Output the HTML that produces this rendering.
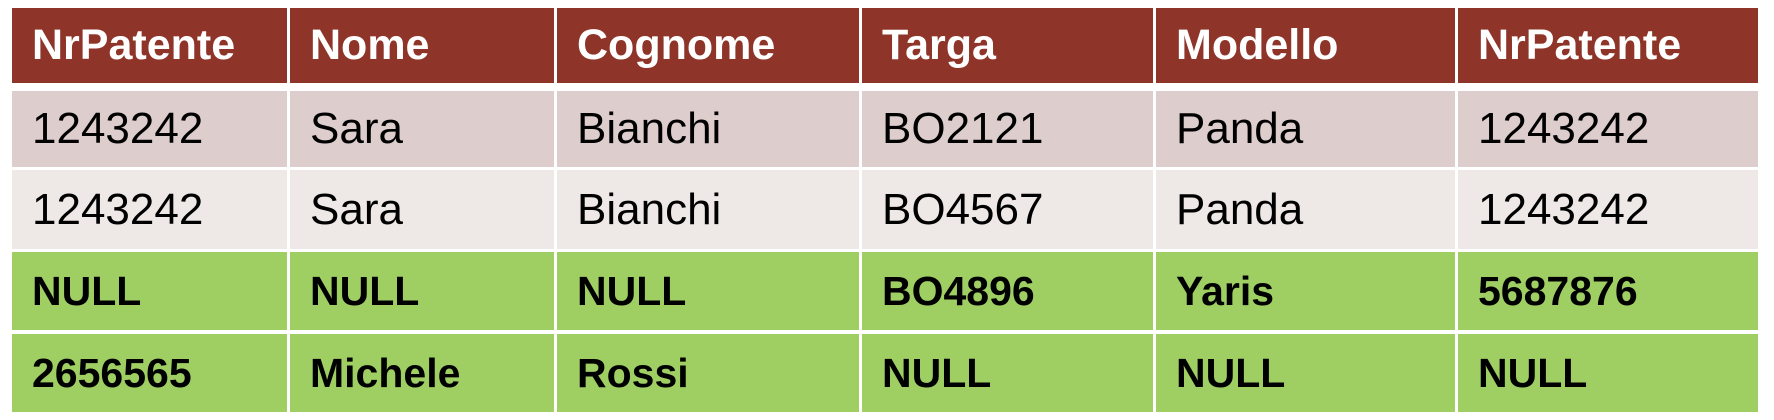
<!DOCTYPE html>
<html><head><meta charset="utf-8">
<style>
html,body{margin:0;padding:0;background:#fff;width:1774px;height:420px;overflow:hidden}
.c{position:absolute;box-sizing:border-box;padding-left:20px;font-family:"Liberation Sans",Arial,sans-serif;font-size:44px;display:flex;align-items:center;color:#000;white-space:nowrap}
.h{background:#8E3428;color:#fff;font-weight:bold;font-size:43px}
.r1{background:#DDCDCD}
.r2{background:#EEE8E6}
.g{background:#9FCF63;font-weight:bold;font-size:41px}
</style></head><body>
<div id="t"></div>
<script>
const headers = ["NrPatente","Nome","Cognome","Targa","Modello","NrPatente"];
const rows = [
 ["1243242","Sara","Bianchi","BO2121","Panda","1243242"],
 ["1243242","Sara","Bianchi","BO4567","Panda","1243242"],
 ["NULL","NULL","NULL","BO4896","Yaris","5687876"],
 ["2656565","Michele","Rossi","NULL","NULL","NULL"]
];
const colX = [[12,287],[290,554],[557,859],[862,1153],[1156,1455],[1458,1758]];
const rowY = [[8,83],[91,167],[170,249],[252,330],[334,412]];
const cls = ["h","r1","r2","g","g"];
const t = document.getElementById('t');
const all = [headers].concat(rows);
all.forEach((r,ri)=>{
  r.forEach((v,ci)=>{
    const d=document.createElement('div');
    d.className='c '+cls[ri];
    d.style.left=colX[ci][0]+'px';
    d.style.width=(colX[ci][1]-colX[ci][0])+'px';
    d.style.top=rowY[ri][0]+'px';
    d.style.height=(rowY[ri][1]-rowY[ri][0])+'px';
    d.textContent=v;
    
    
    t.appendChild(d);
  });
});
</script>
</body></html>
